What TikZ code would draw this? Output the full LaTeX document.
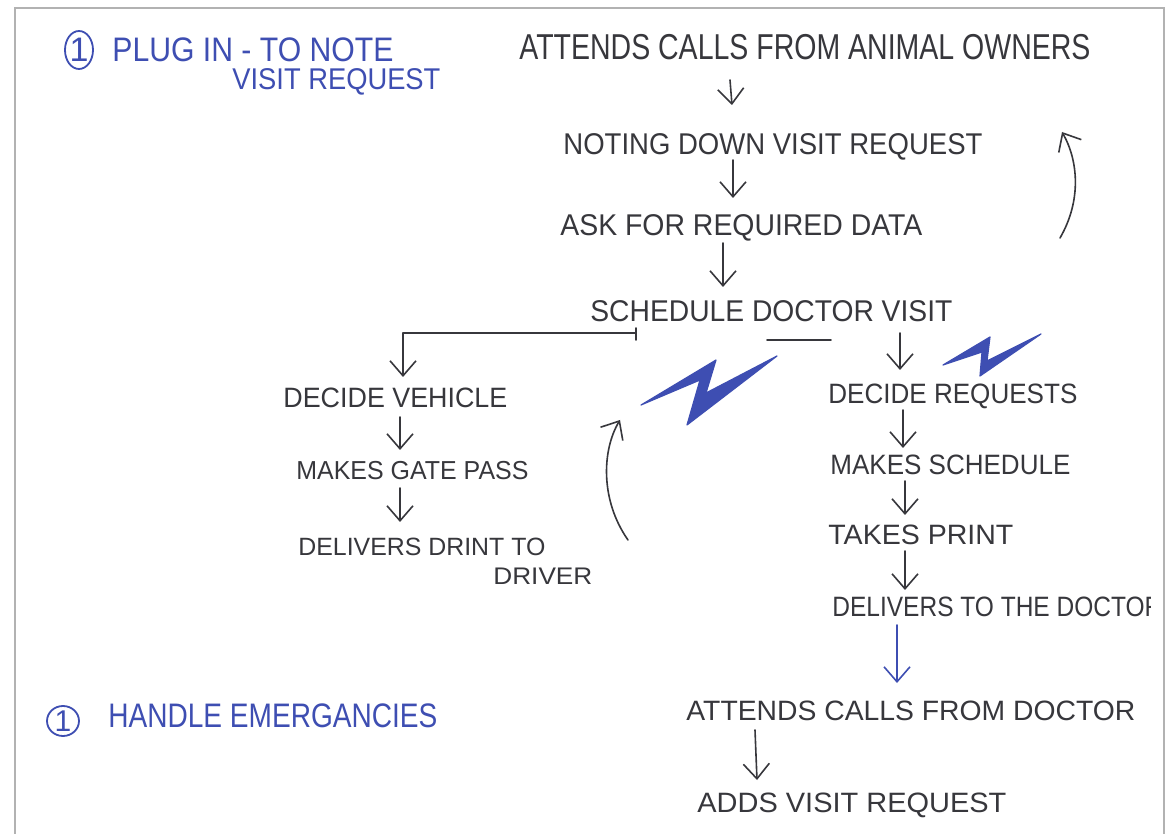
\documentclass[tikz,border=0pt]{standalone}
\usepackage{fontspec}
\setmainfont{Liberation Sans}
\usetikzlibrary{arrows.meta,shapes.geometric}
\definecolor{ink}{RGB}{55,55,60}
\definecolor{penblue}{RGB}{62,78,178}
\definecolor{framegray}{RGB}{178,178,178}
\newdimen\pxu \pxu=0.5pt
% stretch a label horizontally to a given width (in picture units)
\newcommand\hw[2]{\resizebox{#1\pxu}{\height}{#2}}
\newcommand\hsz[1]{\fontsize{#1}{#1}\selectfont}
\tikzset{
  hand/.style={inner sep=0pt, anchor=base west, text=ink},
  bluehand/.style={hand, text=penblue},
  arr/.style={draw=ink, line width=0.8pt, line cap=round, line join=round,
              -{Straight Barb[length=7.5pt,width=13pt]}},
  barr/.style={arr, draw=penblue},
  wire/.style={draw=ink, line width=0.8pt, line cap=round},
  bolt/.style={fill=penblue, draw=penblue, line width=0.6pt, line join=round},
  badge/.style={ellipse, draw=penblue, line width=0.9pt, text=penblue, inner sep=0pt},
}
\begin{document}
\begin{tikzpicture}[x=0.5pt,y=-0.5pt]
\useasboundingbox (0,0) rectangle (1169,834);
\fill[white] (0,0) rectangle (1169,834);
% sheet border
\draw[framegray, line width=1.2pt] (15,834) -- (15,8) -- (1164,8) -- (1164,834);

% headings
\node[badge, minimum width=14pt, minimum height=19pt, font=\hsz{17}] (numA) at (79,50) {1};
\node[bluehand, font=\hsz{17}] (plug) at (112,62) {\hw{281}{PLUG IN - TO NOTE}};
\node[bluehand, font=\hsz{15}] (plugb) at (232,90) {\hw{208}{VISIT REQUEST}};
\node[badge, minimum width=16pt, minimum height=15pt, font=\hsz{15}] (numB) at (63,721) {1};
\node[bluehand, font=\hsz{17}] (emerg) at (108,727) {\hw{329}{HANDLE EMERGANCIES}};

% main column
\node[hand, font=\hsz{18}] (attA) at (519,60) {\hw{571}{ATTENDS CALLS FROM ANIMAL OWNERS}};
\node[hand, font=\hsz{15}] (note) at (563,155) {\hw{419}{NOTING DOWN VISIT REQUEST}};
\node[hand, font=\hsz{15}] (ask) at (560,236) {\hw{362}{ASK FOR REQUIRED DATA}};
\node[hand, font=\hsz{15}] (sched) at (590,322) {\hw{362}{SCHEDULE DOCTOR VISIT}};

% left branch
\node[hand, font=\hsz{14}] (veh) at (283,408) {\hw{224}{DECIDE VEHICLE}};
\node[hand, font=\hsz{13}] (gate) at (296,480) {\hw{232}{MAKES GATE PASS}};
\node[hand, font=\hsz{12.5}] (deliv) at (298,555) {\hw{247}{DELIVERS DRINT TO}};
\node[hand, font=\hsz{12}] (driver) at (493,584) {\hw{99}{DRIVER}};

% right branch
\node[hand, font=\hsz{14}] (req) at (828,404) {\hw{249}{DECIDE REQUESTS}};
\node[hand, font=\hsz{14}] (mksch) at (830,475) {\hw{240}{MAKES SCHEDULE}};
\node[hand, font=\hsz{14}] (print) at (828,545) {\hw{185}{TAKES PRINT}};
\begin{scope}
  \clip (800,580) rectangle (1150,630);
  \node[hand, font=\hsz{14}] (deldoc) at (832,617) {\hw{330}{DELIVERS TO THE DOCTOR}};
\end{scope}
\node[hand, font=\hsz{14}] (attD) at (686,720) {\hw{449}{ATTENDS CALLS FROM DOCTOR}};
\node[hand, font=\hsz{14}] (adds) at (697,812) {\hw{309}{ADDS VISIT REQUEST}};

% arrows of the main column
\draw[arr] ([shift={(211,20)}]attA.base west) -- ([shift={(169,-50)}]note.base west);
\draw[arr] ([shift={(170,5)}]note.base west) -- ([shift={(173,-38)}]ask.base west);
\draw[arr] ([shift={(163,7)}]ask.base west) -- ([shift={(133,-35)}]sched.base west);

% split below the schedule step
\draw[arr] ([shift={(46,11)}]sched.base west) -| ([shift={(120,-31)}]veh.base west);
\draw[wire] ([shift={(46,6)}]sched.base west) -- ++(0,12);
\draw[wire] ([shift={(177,18)}]sched.base west) -- ++(64,0);
\draw[arr] ([shift={(310,11)}]sched.base west) -- ([shift={(72,-34)}]req.base west);

% left branch arrows
\draw[arr] ([shift={(117,9)}]veh.base west) -- ([shift={(104,-30)}]gate.base west);
\draw[arr] ([shift={(104,8)}]gate.base west) -- ([shift={(102,-33)}]deliv.base west);

% right branch arrows
\draw[arr] ([shift={(75,6)}]req.base west) -- ([shift={(73,-27)}]mksch.base west);
\draw[arr] ([shift={(75,6)}]mksch.base west) -- ([shift={(77,-30)}]print.base west);
\draw[arr] ([shift={(77,6)}]print.base west) -- ([shift={(73,-27)}]deldoc.base west);
\draw[barr] ([shift={(65,8)}]deldoc.base west) -- ([shift={(211,-37)}]attD.base west);
\draw[arr] ([shift={(69,10)}]attD.base west) -- ([shift={(60,-32)}]adds.base west);

% loop-back curves
\coordinate (loopLa) at (628,540);
\coordinate (loopLb) at (620,420);
\draw[arr] (loopLa) .. controls (600,500) and (602,450) .. (loopLb);
\coordinate (loopRa) at (1060,238);
\coordinate (loopRb) at (1062,132);
\draw[arr] (loopRa) .. controls (1082,200) and (1078,160) .. (loopRb);

% lightning marks
\filldraw[bolt] (641,405) -- (716,360) -- (706,393) -- (777,356) -- (687,425) -- (700,380) -- cycle;
\filldraw[bolt] (943,365) -- (990,337) -- (987,361) -- (1041,334) -- (980,376) -- (982,352) -- cycle;
\end{tikzpicture}
\end{document}
